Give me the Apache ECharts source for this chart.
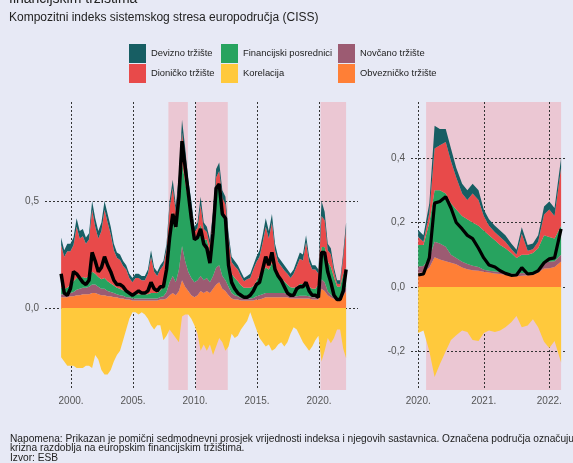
<!DOCTYPE html>
<html>
<head>
<meta charset="utf-8">
<script src="https://cdn.jsdelivr.net/npm/echarts@6.0.0/dist/echarts.min.js"></script>
<style>
	html, body { margin: 0; padding: 0; background: #e7e9f5; }
	#chart { width: 573px; height: 463px; }
</style>
</head>
<body>
<div id="chart"></div>
<script>
	// lijevi panel: 1999.-2022. (tromjesečne točke)
	var yearsL = [1999.2,1999.45,1999.7,1999.95,2000.2,2000.45,2000.7,2000.95,2001.2,2001.45,2001.7,2001.95,2002.2,2002.45,2002.7,2002.95,2003.2,2003.45,2003.7,2003.95,2004.2,2004.45,2004.7,2004.95,2005.2,2005.45,2005.7,2005.95,2006.2,2006.45,2006.7,2006.95,2007.2,2007.45,2007.7,2007.95,2008.2,2008.45,2008.7,2008.95,2009.2,2009.45,2009.7,2009.95,2010.2,2010.45,2010.7,2010.95,2011.2,2011.45,2011.7,2011.95,2012.2,2012.45,2012.7,2012.95,2013.2,2013.45,2013.7,2013.95,2014.2,2014.45,2014.7,2014.95,2015.2,2015.45,2015.7,2015.95,2016.2,2016.45,2016.7,2016.95,2017.2,2017.45,2017.7,2017.95,2018.2,2018.45,2018.7,2018.95,2019.2,2019.45,2019.7,2019.95,2020.2,2020.45,2020.7,2020.95,2021.2,2021.45,2021.7,2021.95,2022.18];
	var obvL = [.05,.05,.05,.055,.055,.06,.06,.065,.065,.065, .07,.07,.065,.06,.06,.055,.055,.05,.05,.045, .045,.04,.04,.035,.035,.035,.035,.035,.035,.035, .035,.035,.04,.04,.045,.06,.07,.06,.08,.13, .1,.08,.06,.05,.06,.08,.07,.08,.07,.09, .11,.12,.09,.08,.06,.045,.04,.04,.035,.035, .035,.035,.035,.04,.04,.045,.05,.05,.05,.05, .05,.05,.05,.05,.045,.045,.045,.045,.045,.045, .045,.04,.04,.04,.09,.08,.06,.05,.042,.034, .036,.058,.079];
	var novL = [.015,.015,.015,.015,.02,.025,.03,.03,.03,.035, .04,.04,.035,.03,.03,.025,.02,.02,.015,.015, .012,.01,.01,.01,.01,.01,.01,.01,.01,.01, .01,.01,.012,.015,.03,.06,.08,.06,.1,.16, .12,.09,.08,.07,.07,.07,.06,.06,.05,.06, .08,.08,.06,.05,.04,.025,.02,.015,.012,.01, .01,.01,.012,.015,.02,.02,.02,.02,.02,.02, .02,.02,.02,.015,.012,.01,.01,.012,.012,.012, .01,.01,.01,.015,.045,.04,.018,.012,.006,.007, .006,.02,.021];
	var finL = [.03,.025,.03,.04,.05,.055,.05,.05,.045,.05, .06,.05,.045,.045,.05,.045,.04,.035,.03,.03, .025,.025,.02,.02,.02,.02,.02,.02,.02,.025, .025,.025,.03,.045,.1,.25,.3,.25,.33,.39, .37,.33,.28,.2,.2,.24,.19,.18,.14,.22, .36,.38,.3,.29,.16,.09,.08,.07,.06,.05, .05,.05,.055,.07,.09,.1,.12,.11,.14,.1, .08,.07,.055,.045,.04,.04,.045,.055,.055,.05, .045,.04,.04,.055,.15,.165,.14,.13,.097,.06, .058,.08,.09];
	var dionL = [.2,.15,.17,.155,.17,.24,.185,.19,.16,.17, .29,.22,.18,.225,.32,.275,.23,.165,.14,.135, .115,.105,.07,.055,.075,.075,.065,.065,.095,.17, .1,.08,.098,.1,.1,.1,.11,.08,.07,.14, .11,.06,.05,.035,.045,.09,.05,.035,.035,.05, .06,.06,.065,.065,.06,.055,.055,.055,.043,.03, .04,.045,.078,.09,.09,.14,.19,.145,.19,.1, .065,.055,.05,.05,.043,.065,.095,.118,.11,.2, .115,.09,.09,.05,.145,.125,.052,.06,.025,.012, .012,.077,.18];
	var devL = [.035,.03,.035,.035,.035,.04,.035,.035,.03,.03, .04,.04,.035,.04,.04,.04,.035,.03,.025,.025, .023,.02,.02,.02,.02,.02,.02,.02,.02,.03, .02,.02,.02,.02,.025,.03,.04,.03,.04,.06, .05,.04,.03,.025,.025,.04,.03,.025,.025,.03, .04,.04,.035,.035,.03,.025,.025,.02,.02,.015, .015,.02,.02,.025,.03,.035,.04,.035,.04,.03, .025,.025,.025,.02,.02,.02,.025,.03,.028,.033, .025,.02,.02,.02,.07,.04,.03,.028,.02,.017, .018,.025,.03];
	var korL = [-.23,-.25,-.27,-.27,-.27,-.28,-.28,-.28,-.27,-.27, -.28,-.22,-.24,-.29,-.31,-.31,-.29,-.25,-.22,-.2, -.15,-.1,-.05,-.02,-.02,-.03,-.02,-.03,-.05,-.08, -.1,-.08,-.08,-.15,-.13,-.1,-.12,-.14,-.16,-.04, -.03,-.03,-.05,-.08,-.12,-.2,-.17,-.2,-.17,-.22, -.18,-.14,-.16,-.2,-.18,-.12,-.14,-.13,-.1,-.08, -.06,-.02,-.06,-.1,-.14,-.16,-.18,-.17,-.2,-.19, -.17,-.16,-.18,-.16,-.12,-.09,-.1,-.13,-.16,-.18, -.2,-.18,-.15,-.13,-.25,-.2,-.14,-.165,-.14,-.1, -.1,-.19,-.235];
	var cissL = [.16,.07,.06,.09,.17,.16,.14,.12,.11,.13, .26,.22,.17,.19,.24,.2,.17,.13,.11,.11, .1,.08,.07,.06,.07,.08,.07,.07,.08,.12, .09,.08,.1,.1,.18,.33,.44,.38,.52,.78, .66,.54,.42,.32,.33,.37,.3,.28,.21,.35, .56,.58,.44,.42,.2,.12,.09,.07,.06,.05, .05,.06,.08,.11,.12,.18,.24,.2,.26,.18, .15,.13,.1,.07,.06,.06,.09,.1,.1,.12, .08,.06,.06,.05,.26,.26,.17,.12,.06,.04, .04,.08,.18];

	// desni panel: 2020.-2022. (mjesečne točke)
	var yearsR = [2020.0,2020.08,2020.17,2020.25,2020.33,2020.42,2020.5,2020.58,2020.67,2020.75,2020.83,2020.92,2021.0,2021.08,2021.17,2021.25,2021.33,2021.42,2021.5,2021.58,2021.67,2021.75,2021.83,2021.92,2022.0,2022.08,2022.18];
	var obvR = [.043,.046,.06,.092,.085,.08,.075,.07,.06,.055,.052,.05,.047,.045,.042,.04,.038,.035,.033,.035,.036,.037,.045,.057,.058,.062,.079];
	var novR = [.02,.019,.03,.048,.05,.045,.025,.02,.018,.016,.014,.012,.006,.005,.006,.006,.006,.007,.007,.008,.006,.008,.01,.018,.02,.018,.021];
	var finR = [.067,.065,.11,.16,.165,.165,.16,.15,.142,.139,.134,.128,.122,.11,.097,.084,.076,.063,.05,.057,.058,.06,.065,.085,.077,.07,.09];
	var dionR = [.025,.01,.03,.13,.14,.16,.13,.1,.07,.06,.09,.08,.045,.03,.025,.025,.02,.013,.01,.065,.012,.012,.02,.065,.085,.07,.18];
	var devR = [.022,.02,.03,.07,.05,.04,.04,.03,.03,.03,.03,.03,.02,.02,.02,.02,.02,.017,.015,.02,.018,.018,.02,.025,.025,.025,.03];
	var korR = [-.143,-.135,-.2,-.28,-.24,-.2,-.165,-.15,-.135,-.14,-.165,-.168,-.143,-.135,-.14,-.135,-.125,-.11,-.09,-.125,-.12,-.1,-.125,-.17,-.19,-.168,-.235];
	var cissR = [.037,.04,.09,.26,.265,.28,.245,.2,.18,.16,.15,.12,.09,.068,.062,.05,.042,.036,.037,.06,.04,.042,.05,.075,.087,.09,.18];

	// krizna razdoblja
	var crises = [[2007.85, 2009.42], [2010.08, 2012.64], [2020.12, 2022.18]];

	var chart = echarts.init(document.getElementById('chart'));
	var font = '"Liberation Sans", Arial, sans-serif';

	// vrijednost prva, godina druga: tako ECharts slaže (stack) vrijednosti, a ne godine
	function rows(xs, ys) {
		return xs.map(function (x, i) { return [ys[i], x]; });
	}
	function fmt(v) {
		return v.toFixed(1).replace('.', ',');
	}
	var gridLine = { color: '#333', type: [2, 2], width: 1 };

	var parts = [
		{ name: 'Korelacija', color: '#ffc93c', L: korL, R: korR, stack: null },
		{ name: 'Obvezničko tržište', color: '#ff7f36', L: obvL, R: obvR, stack: 's' },
		{ name: 'Novčano tržište', color: '#9c5b72', L: novL, R: novR, stack: 's' },
		{ name: 'Financijski posrednici', color: '#27a35f', L: finL, R: finR, stack: 's' },
		{ name: 'Dioničko tržište', color: '#e84a4a', L: dionL, R: dionR, stack: 's' },
		{ name: 'Devizno tržište', color: '#175e63', L: devL, R: devR, stack: 's' }
	];

	var series = [];
	[0, 1].forEach(function (g) {
		var xs = g === 0 ? yearsL : yearsR;
		parts.forEach(function (p, i) {
			var s = {
				name: p.name,
				type: 'line',
				xAxisIndex: g,
				yAxisIndex: g,
				stack: p.stack ? p.stack + g : undefined,
				data: rows(xs, g === 0 ? p.L : p.R),
				encode: { x: 1, y: 0 },
				color: p.color,
				symbol: 'none',
				lineStyle: { width: 0 },
				areaStyle: { color: p.color, opacity: 1 },
				animation: false
			};
			if (i === 0) {
				s.markArea = {
					z: -1,
					silent: true,
					itemStyle: { color: '#ebc7d3' },
					data: (g === 0 ? crises : crises.slice(2)).map(function (c) {
						return [{ xAxis: c[0] }, { xAxis: c[1] }];
					})
				};
			}
			series.push(s);
		});
		series.push({
			name: 'CISS',
			type: 'line',
			xAxisIndex: g,
			yAxisIndex: g,
			data: rows(xs, g === 0 ? cissL : cissR),
			encode: { x: 1, y: 0 },
			symbol: 'none',
			z: 5,
			lineStyle: { color: '#000', width: g === 0 ? 3.5 : 3.2 },
			animation: false
		});
	});

	function xAxis(g, min, max, split) {
		return {
			type: 'value', gridIndex: g, min: min, max: max, splitNumber: split,
			axisLine: { show: false }, axisTick: { show: false },
			axisLabel: {
				showMinLabel: false, showMaxLabel: false, color: '#555', fontSize: 10, margin: 6, fontFamily: font,
				formatter: function (v) { return Math.abs(v - Math.round(v)) < 1e-6 ? Math.round(v) + '.' : ''; }
			},
			splitLine: { show: true, showMinLine: false, showMaxLine: false, lineStyle: gridLine }
		};
	}
	function yAxis(g, min, max, split, step) {
		return {
			type: 'value', gridIndex: g, min: min, max: max, splitNumber: split,
			axisLine: { show: false }, axisTick: { show: false },
			axisLabel: {
				showMinLabel: false, showMaxLabel: false, color: '#555', fontSize: 10, margin: 6, fontFamily: font,
				formatter: function (v) { var q = v / step; return Math.abs(q - Math.round(q)) < 1e-6 ? fmt(v) : ''; }
			},
			splitLine: { show: true, showMinLine: false, showMaxLine: false, lineStyle: gridLine }
		};
	}

	function legend(left, names) {
		return {
			orient: 'vertical', left: left, top: 44, padding: 0,
			itemWidth: 17, itemHeight: 19, itemGap: 1, icon: 'rect',
			textStyle: { fontSize: 9.4, color: '#222', fontFamily: font },
			data: names
		};
	}

	var option = {
		backgroundColor: '#e7e9f5',
		textStyle: { fontFamily: font },
		title: [
			{ text: 'financijskim tržištima', left: 9, top: -8, padding: 0,
				textStyle: { fontSize: 14, fontWeight: 'normal', color: '#222', fontFamily: font } },
			{ text: 'Kompozitni indeks sistemskog stresa europodručja (CISS)', left: 9, top: 12, padding: 0,
				textStyle: { fontSize: 12, fontWeight: 'normal', color: '#222', fontFamily: font } }
		],
		legend: [
			legend(129, ['Devizno tržište', 'Dioničko tržište']),
			legend(221, ['Financijski posrednici', 'Korelacija']),
			legend(338, ['Novčano tržište', 'Obvezničko tržište'])
		],
		grid: [
			{ left: 45, right: 215, top: 102, bottom: 73 },
			{ left: 411, right: 6, top: 102, bottom: 73 }
		],
		xAxis: [xAxis(0, 1997.9, 2023.14, 5), xAxis(1, 2019.89, 2022.27, 2)],
		yAxis: [yAxis(0, -0.383, 0.963, 3, 0.5), yAxis(1, -0.32, 0.574, 5, 0.2)],
		graphic: [{
			type: 'text', left: 10, top: 434,
			style: {
				text: 'Napomena: Prikazan je pomični sedmodnevni prosjek vrijednosti indeksa i njegovih sastavnica. Označena područja označuju\nkrizna razdoblja na europskim financijskim tržištima.\nIzvor: ESB',
				font: '10.2px ' + font, lineHeight: 9.6, fill: '#222'
			}
		}],
		series: series
	};
	chart.setOption(option);
</script>
</body>
</html>
